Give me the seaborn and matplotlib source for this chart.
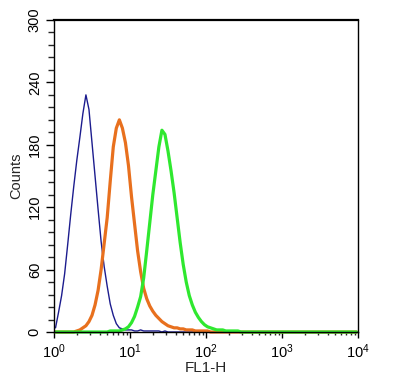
import numpy as np
import pandas as pd
import matplotlib
matplotlib.use('Agg')
import matplotlib.pyplot as plt
import seaborn as sns
from matplotlib.ticker import MultipleLocator, LogLocator, NullFormatter

# ================================
# Histogram data (counts per channel, channels are 0.04 decade wide)
# ================================
channel_log = np.arange(100) * 0.04 + 0.02      # log10 of channel centre, 10^0 .. 10^4

blue_counts = ([4, 19, 35, 56, 84, 113, 140, 165, 187, 210, 228, 214, 182, 150, 118,
                87, 63, 44, 27, 16, 8, 4, 3, 2, 2, 2, 1, 1, 2, 1, 1, 1, 1, 1, 1, 0, 1]
               + [0] * 63)

orange_counts = ([0] * 7
                 + [1, 2, 4, 6, 10, 16, 26, 40, 60, 85, 110, 145, 178, 196, 204, 196, 182,
                    160, 130, 104, 78, 58, 42, 32, 25, 20, 16, 13, 10, 8, 6, 5, 4, 4, 3, 3,
                    2, 2, 2, 1, 1, 1, 1, 1]
                 + [0] * 49)

green_counts = ([0] * 17
                + [0, 1, 1, 1, 1, 2, 3, 5, 9, 15, 24, 34, 52, 78, 105, 132, 155, 178, 194,
                   190, 174, 155, 134, 110, 86, 65, 48, 35, 26, 19, 14, 10, 7, 5, 4, 3, 2,
                   2, 2, 1, 1, 1, 1, 1]
                + [0] * 39)

hist = pd.DataFrame({
    'fl1': 10 ** channel_log,
    'blue': blue_counts,
    'orange': orange_counts,
    'green': green_counts,
})

# ================================
# Plot
# ================================
sns.set_style('ticks')
plt.rcParams['font.family'] = ['Liberation Sans', 'DejaVu Sans']
plt.rcParams['mathtext.fontset'] = 'custom'
plt.rcParams['mathtext.rm'] = 'Liberation Sans'
plt.rcParams['mathtext.it'] = 'Liberation Sans'

fig = plt.figure(figsize=(3.93, 3.84), dpi=100)
ax = fig.add_axes([54 / 393, 1 - 332 / 384, 304 / 393, 312 / 384])

sns.lineplot(data=hist, x='fl1', y='blue', color='#1c1c8e', linewidth=1.0,
             ax=ax, clip_on=False)
sns.lineplot(data=hist, x='fl1', y='orange', color='#e8701e', linewidth=2.3,
             ax=ax, clip_on=False)
sns.lineplot(data=hist, x='fl1', y='green', color='#2fe82f', linewidth=2.3,
             ax=ax, clip_on=False)

ax.set_xscale('log')
ax.set_xlim(1, 1e4)
ax.set_ylim(0, 300)

ax.yaxis.set_major_locator(MultipleLocator(60))
ax.yaxis.set_minor_locator(MultipleLocator(12))
ax.xaxis.set_major_locator(LogLocator(base=10))
ax.xaxis.set_minor_locator(LogLocator(base=10, subs=np.arange(2, 10)))
ax.xaxis.set_minor_formatter(NullFormatter())

ax.tick_params(axis='y', which='major', direction='out', length=5.8, width=1,
               labelsize=10.5, pad=3, colors='black', labelrotation=90)
ax.tick_params(axis='y', which='minor', direction='out', length=4.3, width=1)
ax.tick_params(axis='x', which='major', direction='out', length=4.3, width=1,
               labelsize=10.5, pad=3, colors='black')
ax.tick_params(axis='x', which='minor', direction='out', length=2.2, width=1)
for lab in ax.get_yticklabels():
    lab.set_va('center')

for side in ['left', 'bottom', 'right', 'top']:
    ax.spines[side].set_visible(True)
    ax.spines[side].set_color('black')
    ax.spines[side].set_linewidth(1.0)
ax.spines['top'].set_linewidth(1.6)

ax.set_xlabel('FL1-H', fontsize=11, labelpad=0)
ax.set_ylabel('Counts', fontsize=10.5, labelpad=3)

fig.savefig('out.png', dpi=100)
